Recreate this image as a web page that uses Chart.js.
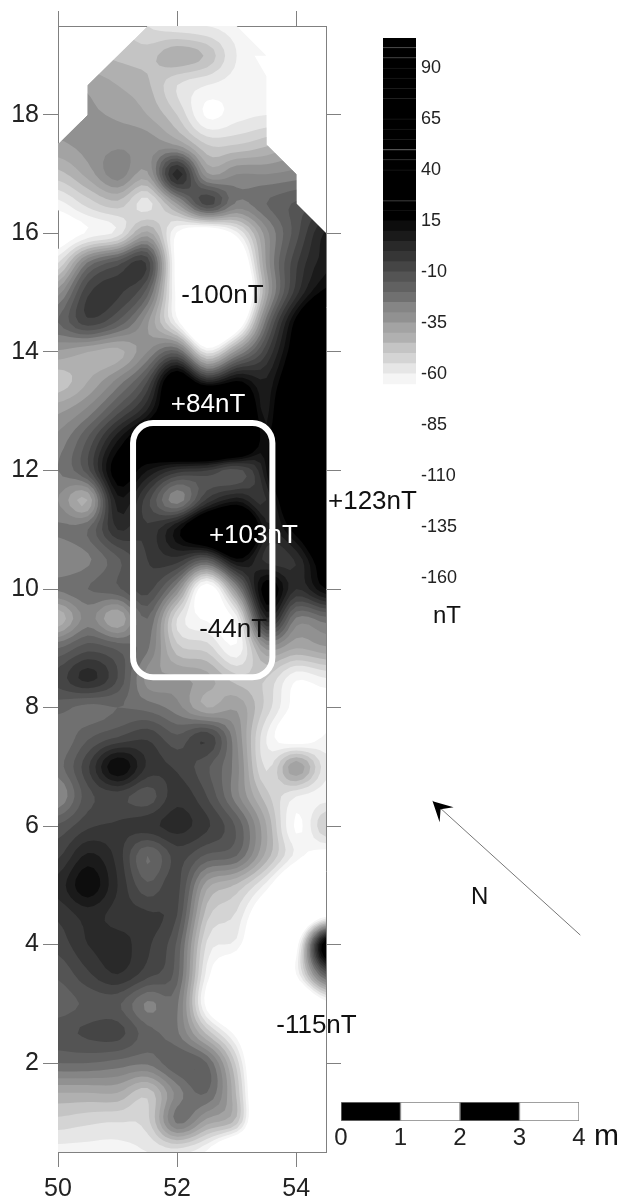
<!DOCTYPE html>
<html>

<head>
  <meta charset="UTF-8">
  <title>Magnetic map</title>
  <script src="https://cdn.jsdelivr.net/npm/chart.js"></script>
  <style>
    body { margin: 0; background: #fff; }
    canvas { position: absolute; }
    #mapa { left: 0; top: 0; }
    #legenda { left: 375px; top: 30px; }
    #escala { left: 325px; top: 1095px; }
  </style>
</head>

<body>
  <canvas id="mapa" width="625" height="1200"></canvas>
  <canvas id="legenda" width="100" height="580"></canvas>
  <canvas id="escala" width="300" height="60"></canvas>
</body>

</html>

<script>
  // survey grid (nT), rows from north to south
  var gridX = [50, 50.5, 51, 51.5, 52, 52.5, 53, 53.5, 54, 54.5];
  var gridY = [19.5, 19, 18.5, 18, 17.5, 17, 16.5, 16, 15.5, 15, 14.5, 14, 13.5, 13, 12.5, 12, 11.5, 11, 10.5, 10,
    9.5, 9, 8.5, 8, 7.5, 7, 6.5, 6, 5.5, 5, 4.5, 4, 3.5, 3, 2.5, 2, 1.5, 1, 0.5];
  var gridValues = [
    [-45, -45, -48, -55, -58, -60, -62, -62, -62, -62],
    [-42, -44, -46, -47, -41, -46, -60, -62, -62, -62],
    [-34, -36, -40, -44, -55, -60, -62, -62, -62, -62],
    [-33, -34, -36, -40, -50, -66, -62, -60, -60, -60],
    [-36, -33, -31, -32, -36, -50, -50, -46, -40, -38],
    [-47, -38, -27, -36, 3, -34, -30, -30, -28, -25],
    [-62, -53, -47, -57, -35, -8, -26, -20, -14, -8],
    [-72, -64, -58, -38, -66, -78, -62, -32, -12, 6],
    [-55, -24, -12, -6, -70, -100, -85, -34, -6, 8],
    [-32, -6, -4, -18, -68, -100, -95, -38, -2, 18],
    [-20, -7, -16, -34, -62, -100, -78, -22, 18, 50],
    [-36, -40, -42, -30, -18, -58, -32, -6, 24, 60],
    [-48, -40, -28, -10, 30, 4, 16, 6, 35, 70],
    [-36, -28, -12, 6, 40, 84, 50, 8, 60, 85],
    [-28, -14, 10, 30, 55, 70, 55, 12, 75, 95],
    [-25, -12, 20, 10, -2, -5, -12, 10, 80, 110],
    [-30, -40, 8, -8, -28, -4, 8, 0, 50, 123],
    [-24, -20, 0, -4, 12, 40, 55, 6, 20, 55],
    [-30, -26, -16, -5, -2, -14, 14, -2, 1, 25],
    [-24, -20, -16, -8, -30, -72, -30, 20, 0, 15],
    [-44, -28, -40, -20, -55, -66, -62, 4, -26, -22],
    [-20, -12, -16, -24, -48, -52, -64, -34, -40, -36],
    [-8, 2, -10, -32, -34, -38, -48, -50, -64, -60],
    [-18, -22, -20, -22, -28, -40, -36, -52, -68, -70],
    [-25, -16, -10, -6, -14, -6, -30, -60, -72, -64],
    [-22, -6, 15, -1, -6, -14, -28, -56, -36, -58],
    [-30, -12, -8, -13, -2, -10, -28, -48, -60, -62],
    [-14, -6, -4, -2, 2, -4, -16, -40, -66, -50],
    [-6, 6, -2, -20, -8, -16, -20, -42, -62, -70],
    [2, 14, 0, -14, -8, -38, -46, -62, -85, -90],
    [-4, 2, -2, -4, -10, -48, -56, -78, -90, -70],
    [-8, 0, 2, -4, -16, -56, -62, -85, -70, 25],
    [-14, -6, 0, -8, -18, -62, -80, -90, -65, -15],
    [-18, -14, -14, -26, -24, -68, -90, -95, -95, -70],
    [-12, -9, -8, -18, -24, -46, -68, -95, -95, -95],
    [-20, -20, -22, -24, -16, -20, -52, -95, -95, -95],
    [-40, -40, -40, -48, -28, -20, -46, -95, -95, -95],
    [-52, -54, -55, -52, -24, -38, -48, -95, -95, -95],
    [-62, -62, -62, -60, -58, -66, -90, -95, -95, -95]
  ];

  // edge of the surveyed area
  var outlineX = [51.51, 53, 53.5, 53.3, 53.5, 53.5, 54, 54, 54.5, 54.5, 50, 50, 50.5, 50.5];
  var outlineY = [19.5, 19.5, 19, 19, 18.65, 17.5, 17, 16.5, 16, 0.5, 0.5, 17.5, 18, 18.5];

  var xTicks = [50, 52, 54];
  var yTicks = [2, 4, 6, 8, 10, 12, 14, 16, 18];

  // colour scale
  var bandLows = [-65, -60, -55, -50, -45, -40, -35, -30, -25, -20, -15, -10, -5, 0, 5, 10, 15];
  var bandColors = ['#f5f5f5', '#e6e6e6', '#d4d4d4', '#c4c4c4', '#b0b0b0', '#a3a3a3', '#919191', '#858585', '#707070',
    '#616161', '#545454', '#454545', '#363636', '#292929', '#1a1a1a', '#0d0d0d', '#000000'];
  var blackLows = [20, 25, 30, 35, 40, 45, 50, 55, 60, 65, 70, 75, 80, 85, 90, 95, 100];
  var blackNoLine = [25, 30, 65, 70];
  var legendTicks = [90, 65, 40, 15, -10, -35, -60, -85, -110, -135, -160];

  // anomaly labels
  var noteTexts = ['-100nT', '+84nT', '+103nT', '-44nT', '+123nT', '-115nT'];
  var noteX = [52.76, 52.52, 53.28, 52.94, 55.28, 54.34];
  var noteY = [14.95, 13.11, 10.9, 9.31, 11.47, 2.63];
  var noteColors = ['#111', '#fff', '#fff', '#111', '#111', '#111'];

  var northX = [58.77, 56.29];
  var northY = [4.16, 6.42];

  var fonte = '"Liberation Sans", Arial, sans-serif';
  var corEixo = '#808080';

  // Catmull-Rom, only to smooth the grid when the bands are drawn
  function cr(a, b, c, d, t) {
    return b + 0.5 * t * (c - a + t * (2 * a - 5 * b + 4 * c - d + t * (3 * (b - c) + d - a)));
  }

  function refinar(n) {
    var rows = gridValues.length, cols = gridX.length;
    var out = [];
    for (var r = 0; r < (rows - 1) * n + 1; r++) {
      var linha = [];
      var r0 = Math.min(Math.floor(r / n), rows - 2), tr = r / n - r0;
      for (var c = 0; c < (cols - 1) * n + 1; c++) {
        var c0 = Math.min(Math.floor(c / n), cols - 2), tc = c / n - c0;
        var col = [];
        for (var k = -1; k <= 2; k++) {
          var g = gridValues[Math.max(0, Math.min(rows - 1, r0 + k))];
          col.push(cr(g[Math.max(0, c0 - 1)], g[c0], g[c0 + 1], g[Math.min(cols - 1, c0 + 2)], tc));
        }
        linha.push(cr(col[0], col[1], col[2], col[3], tr));
      }
      out.push(linha);
    }
    return out;
  }

  var pluginBandas = {
    id: 'bandas',
    beforeDatasetsDraw: function (chart) {
      var ctx = chart.ctx, sx = chart.scales.x, sy = chart.scales.y;
      var n = 5;
      var fino = refinar(n);
      var px = [], py = [];
      for (var c = 0; c < fino[0].length; c++) px.push(sx.getPixelForValue(gridX[0] + (c / n) * 0.5));
      for (var r = 0; r < fino.length; r++) py.push(sy.getPixelForValue(gridY[0] - (r / n) * 0.5));

      ctx.save();
      ctx.beginPath();
      for (var i = 0; i < outlineX.length; i++) {
        var ox = sx.getPixelForValue(outlineX[i]), oy = sy.getPixelForValue(outlineY[i]);
        if (i == 0) ctx.moveTo(ox, oy); else ctx.lineTo(ox, oy);
      }
      ctx.closePath();
      ctx.clip();

      for (var b = 0; b < bandLows.length; b++) {
        var nivel = bandLows[b];
        ctx.beginPath();
        for (var r = 0; r < fino.length - 1; r++) {
          for (var c = 0; c < fino[0].length - 1; c++) {
            var cx = [px[c], px[c + 1], px[c + 1], px[c]];
            var cy = [py[r], py[r], py[r + 1], py[r + 1]];
            var v = [fino[r][c], fino[r][c + 1], fino[r + 1][c + 1], fino[r + 1][c]];
            var primeiro = true;
            for (var k = 0; k < 4; k++) {
              var j = (k + 1) % 4;
              if (v[k] >= nivel) {
                if (primeiro) { ctx.moveTo(cx[k], cy[k]); primeiro = false; } else ctx.lineTo(cx[k], cy[k]);
              }
              if ((v[k] >= nivel) != (v[j] >= nivel)) {
                var t = (nivel - v[k]) / (v[j] - v[k]);
                var qx = cx[k] + t * (cx[j] - cx[k]), qy = cy[k] + t * (cy[j] - cy[k]);
                if (primeiro) { ctx.moveTo(qx, qy); primeiro = false; } else ctx.lineTo(qx, qy);
              }
            }
            if (!primeiro) ctx.closePath();
          }
        }
        ctx.fillStyle = bandColors[b];
        ctx.fill();
      }
      ctx.restore();
    },
    afterDatasetsDraw: function (chart) {
      var ctx = chart.ctx, sx = chart.scales.x, sy = chart.scales.y;
      ctx.save();

      // white frame around the anomaly
      var x0 = sx.getPixelForValue(51.26), x1 = sx.getPixelForValue(53.6);
      var y0 = sy.getPixelForValue(12.8), y1 = sy.getPixelForValue(8.51);
      ctx.beginPath();
      ctx.roundRect(x0, y0, x1 - x0, y1 - y0, 20);
      ctx.lineWidth = 6;
      ctx.strokeStyle = '#fff';
      ctx.stroke();

      // north arrow head
      var tx = sx.getPixelForValue(northX[1]), ty = sy.getPixelForValue(northY[1]);
      ctx.beginPath();
      ctx.moveTo(tx, ty);
      ctx.lineTo(tx + 21, ty + 6);
      ctx.lineTo(tx + 8, ty + 8);
      ctx.lineTo(tx + 7, ty + 21);
      ctx.closePath();
      ctx.fillStyle = '#000';
      ctx.fill();

      ctx.textAlign = 'center';
      ctx.textBaseline = 'middle';
      ctx.font = '26px ' + fonte;
      for (var i = 0; i < noteTexts.length; i++) {
        ctx.fillStyle = noteColors[i];
        ctx.fillText(noteTexts[i], sx.getPixelForValue(noteX[i]), sy.getPixelForValue(noteY[i]));
      }
      ctx.fillStyle = '#111';
      ctx.font = '24px ' + fonte;
      ctx.fillText('N', sx.getPixelForValue(57.08), sy.getPixelForValue(4.8));
      ctx.fillText('nT', sx.getPixelForValue(56.53), sy.getPixelForValue(9.53));
      ctx.restore();
    }
  };

  function fixarTicks(lista) {
    return function (scale) {
      scale.ticks = lista.map(function (v) { return { value: v }; });
    };
  }

  function largura(w) {
    return function (scale) { scale.width = w; };
  }

  function altura(h) {
    return function (scale) { scale.height = h; };
  }

  var pontos = [];
  gridValues.forEach(function (linha, r) {
    linha.forEach(function (v, c) {
      pontos.push({ x: gridX[c], y: gridY[r], v: v });
    });
  });

  new Chart(document.getElementById('mapa'), {
    type: 'scatter',
    data: {
      datasets: [
        { data: pontos, pointRadius: 0 },
        {
          data: northX.map(function (x, i) { return { x: x, y: northY[i] }; }),
          showLine: true, pointRadius: 0, borderColor: '#777', borderWidth: 1, clip: false
        }
      ]
    },
    options: {
      responsive: false,
      animation: false,
      layout: { padding: 0 },
      plugins: { legend: { display: false }, tooltip: { enabled: false } },
      scales: {
        x: {
          type: 'linear', position: 'bottom', min: 50, max: 54.5,
          afterBuildTicks: fixarTicks(xTicks), afterFit: altura(48),
          border: { color: corEixo },
          grid: { drawOnChartArea: false, tickLength: 15, color: corEixo },
          ticks: { font: { size: 25, family: fonte }, color: '#222', padding: 7, maxRotation: 0, autoSkip: false }
        },
        x2: {
          type: 'linear', position: 'top', min: 50, max: 54.5,
          afterBuildTicks: fixarTicks(xTicks), afterFit: altura(26),
          border: { color: corEixo },
          grid: { drawOnChartArea: false, tickLength: 15, color: corEixo },
          ticks: { display: false }
        },
        y: {
          type: 'linear', position: 'left', min: 0.5, max: 19.5,
          afterBuildTicks: fixarTicks(yTicks), afterFit: largura(58),
          border: { color: corEixo },
          grid: { drawOnChartArea: false, tickLength: 15, color: corEixo },
          ticks: { font: { size: 25, family: fonte }, color: '#222', padding: 4, autoSkip: false }
        },
        y2: {
          type: 'linear', position: 'right', min: 0.5, max: 19.5,
          afterBuildTicks: fixarTicks(yTicks), afterFit: largura(299),
          border: { color: corEixo },
          grid: { drawOnChartArea: false, tickLength: 15, color: corEixo },
          ticks: { display: false }
        }
      }
    },
    plugins: [pluginBandas]
  });

  // colour bar
  var faixas = [];
  bandLows.forEach(function (lo, i) {
    faixas.push({ data: [[lo, lo + 5]], backgroundColor: bandColors[i], borderWidth: 0 });
  });
  blackLows.forEach(function (lo) {
    faixas.push({
      data: [[lo, lo + 5]], backgroundColor: '#000000',
      borderColor: '#1a1a1a', borderWidth: blackNoLine.indexOf(lo) >= 0 ? 0 : { top: 1, left: 0, right: 0, bottom: 0 },
      borderSkipped: false
    });
  });

  new Chart(document.getElementById('legenda'), {
    type: 'bar',
    data: { labels: ['nT'], datasets: faixas },
    options: {
      responsive: false,
      animation: false,
      grouped: false,
      barPercentage: 1,
      categoryPercentage: 1,
      layout: { padding: { left: 8, top: 8, bottom: 12, right: 0 } },
      plugins: { legend: { display: false }, tooltip: { enabled: false } },
      scales: {
        x: { display: false },
        y: {
          position: 'right', min: -170, max: 104.7,
          afterBuildTicks: fixarTicks(legendTicks),
          afterFit: function (scale) {
            scale.width = 59;
            scale.paddingTop = 0;
            scale.paddingBottom = 0;
          },
          border: { display: false },
          grid: { display: false, drawTicks: false },
          ticks: { font: { size: 18, family: fonte }, color: '#222', padding: 5, autoSkip: false }
        }
      }
    }
  });

  // scale bar, metres
  var barraIni = [0, 1, 2, 3];
  var barraCor = ['#000', '#fff', '#000', '#fff'];

  new Chart(document.getElementById('escala'), {
    type: 'bar',
    data: {
      labels: ['m'],
      datasets: barraIni.map(function (a, i) {
        return { data: [[a, a + 1]], backgroundColor: barraCor[i], borderColor: corEixo, borderWidth: 1, borderSkipped: false };
      })
    },
    options: {
      indexAxis: 'y',
      responsive: false,
      animation: false,
      grouped: false,
      barPercentage: 1,
      categoryPercentage: 1,
      layout: { padding: { left: 16, right: 46, top: 7, bottom: 0 } },
      plugins: { legend: { display: false }, tooltip: { enabled: false } },
      scales: {
        y: { display: false },
        x: {
          type: 'linear', min: 0, max: 4, afterFit: altura(34),
          border: { display: false },
          grid: { display: false, drawTicks: false },
          ticks: { stepSize: 1, font: { size: 24, family: fonte }, color: '#222', padding: 3, maxRotation: 0 }
        }
      }
    },
    plugins: [{
      id: 'unidade',
      afterDraw: function (chart) {
        var ctx = chart.ctx;
        ctx.save();
        ctx.font = '30px ' + fonte;
        ctx.fillStyle = '#111';
        ctx.textBaseline = 'alphabetic';
        ctx.fillText('m', chart.scales.x.getPixelForValue(4) + 15, 50);
        ctx.restore();
      }
    }]
  });
</script>
